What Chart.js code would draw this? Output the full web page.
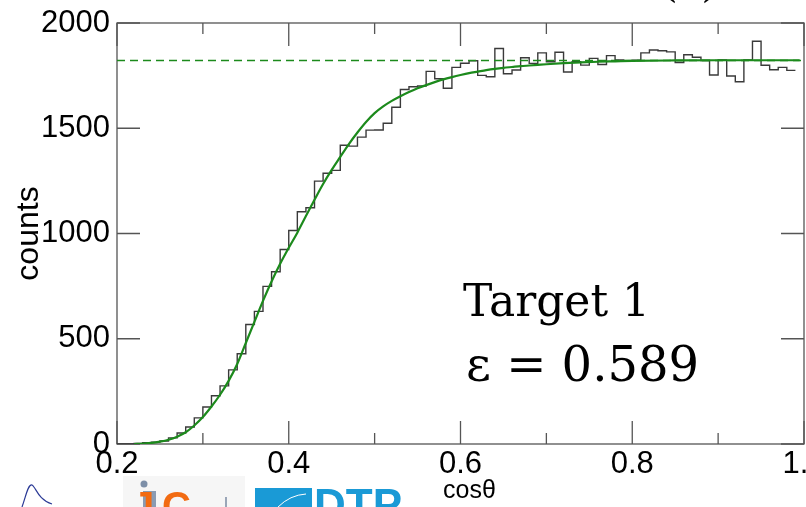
<!DOCTYPE html>
<html>
<head>
<meta charset="utf-8">
<script src="https://cdn.jsdelivr.net/npm/chart.js@4.4.1/dist/chart.umd.min.js"></script>
<style>
  html, body { margin: 0; padding: 0; background: #fff; }
  canvas { display: block; }
</style>
</head>
<body>
<canvas id="c" width="806" height="507"></canvas>
<script>
// histogram: 0.01 wide bins starting at cos(theta) = 0.20
var binStart = 0.20;
var binWidth = 0.01;
var counts = [
    0, 0, 3, 6, 9, 14, 29, 52, 81, 124,
    176, 229, 276, 352, 429, 568, 630, 749, 818, 924,
    1014, 1103, 1122, 1249, 1286, 1300, 1419, 1415, 1458, 1491,
    1492, 1524, 1600, 1684, 1697, 1701, 1770, 1735, 1690, 1789,
    1809, 1821, 1751, 1745, 1879, 1759, 1777, 1835, 1808, 1858,
    1816, 1861, 1767, 1816, 1800, 1832, 1803, 1845, 1825, 1821,
    1823, 1858, 1872, 1868, 1863, 1812, 1849, 1837, 1822, 1753,
    1824, 1748, 1721, 1824, 1913, 1799, 1778, 1789, 1775
];

// fitted turn-on curve
var fitX = [
    0.22, 0.23, 0.24, 0.25, 0.26, 0.27, 0.28, 0.29, 0.30, 0.31,
    0.32, 0.33, 0.34, 0.35, 0.36, 0.37, 0.38, 0.39, 0.40, 0.41,
    0.42, 0.43, 0.44, 0.45, 0.46, 0.47, 0.48, 0.49, 0.50, 0.51,
    0.52, 0.53, 0.54, 0.55, 0.56, 0.57, 0.58, 0.59, 0.60, 0.61,
    0.62, 0.63, 0.64, 0.65, 0.66, 0.67, 0.68, 0.69, 0.70, 0.72,
    0.74, 0.76, 0.78, 0.80, 0.85, 0.90, 0.95, 0.995
];
var fitY = [
    0, 2, 5, 11, 20, 35, 56, 88, 128, 178,
    234, 300, 380, 480, 580, 680, 772, 856, 932, 1004,
    1083, 1160, 1235, 1302, 1364, 1425, 1480, 1530, 1572, 1604,
    1630, 1652, 1672, 1690, 1705, 1719, 1732, 1743, 1753, 1762,
    1769, 1776, 1782, 1787, 1791, 1795, 1798, 1801, 1804, 1809,
    1813, 1816, 1818, 1820, 1822, 1823, 1823, 1823
];

var plateau = 1822;
var efficiency = 0.589;
var targetName = "Target 1";

var xMajorTicks = [0.2, 0.4, 0.6, 0.8, 1.0];
var xMinorTicks = [0.3, 0.5, 0.7, 0.9];
var yTicks = [0, 500, 1000, 1500, 2000];

var sans = "'Liberation Sans', Arial, Helvetica, sans-serif";
var serif = "'DejaVu Serif', serif";
var green = "#1c8a1c";

var histPoints = [];
counts.forEach(function (c, i) {
    var lo = binStart + i * binWidth;
    histPoints.push({ x: lo, y: c });
    histPoints.push({ x: lo + binWidth, y: c });
});

var fitPoints = fitX.map(function (x, i) { return { x: x, y: fitY[i] }; });

// ROOT-like frame with ticks pointing inwards on all four sides
var frameTicks = {
    id: "frameTicks",
    beforeDatasetsDraw: function (chart) {
        var ctx = chart.ctx, a = chart.chartArea;
        var x = chart.scales.x, y = chart.scales.y;
        ctx.save();
        ctx.strokeStyle = "#555";
        ctx.lineWidth = 1.3;
        ctx.strokeRect(a.left, a.top, a.right - a.left, a.bottom - a.top);
        ctx.beginPath();
        function xTick(v, len) {
            var px = x.getPixelForValue(v);
            ctx.moveTo(px, a.bottom); ctx.lineTo(px, a.bottom - len);
            ctx.moveTo(px, a.top); ctx.lineTo(px, a.top + len);
        }
        xMajorTicks.forEach(function (v) { xTick(v, 23); });
        xMinorTicks.forEach(function (v) { xTick(v, 11); });
        yTicks.forEach(function (v) {
            var py = y.getPixelForValue(v);
            ctx.moveTo(a.left, py); ctx.lineTo(a.left + 23, py);
            ctx.moveTo(a.right, py); ctx.lineTo(a.right - 23, py);
        });
        ctx.stroke();
        ctx.restore();
    }
};

// fit result text, cut-off pad label, x title and the institute logos along the bottom
var decorations = {
    id: "decorations",
    afterDraw: function (chart) {
        var ctx = chart.ctx;
        ctx.save();
        ctx.fillStyle = "#000";
        ctx.textAlign = "left";
        ctx.textBaseline = "alphabetic";
        ctx.font = "44px " + serif;
        ctx.fillText(targetName, 463, 316);
        ctx.font = "48px " + serif;
        ctx.fillText("\u03b5 = " + efficiency.toFixed(3), 466, 381);
        ctx.font = "40px " + serif;
        ctx.fillText("(a)", 662, -3);

        // x axis title sits a little right of the frame centre
        ctx.font = "25px " + sans;
        ctx.fillText("cos\u03b8", 443, 498);

        // small spectrum logo
        ctx.strokeStyle = "#2b3a96";
        ctx.lineWidth = 1.2;
        ctx.beginPath();
        ctx.moveTo(22, 507);
        ctx.bezierCurveTo(26, 496, 28, 484, 32, 485);
        ctx.bezierCurveTo(36, 487, 38, 500, 52, 504);
        ctx.stroke();

        // IJC lab logo
        ctx.fillStyle = "#f6f6f6";
        ctx.fillRect(123, 476, 122, 31);
        ctx.fillStyle = "#7d8fa8";
        ctx.beginPath();
        ctx.arc(144, 484, 3.5, 0, Math.PI * 2);
        ctx.fill();
        ctx.fillStyle = "#8a9bb3";
        ctx.fillRect(143, 491, 13, 16);
        ctx.fillStyle = "#f26b12";
        ctx.font = "bold 40px " + sans;
        ctx.fillText("J", 132, 520);
        ctx.fillText("C", 162, 520);
        ctx.fillStyle = "#9aa6b8";
        ctx.fillRect(225, 497, 2, 10);

        // DTP logo
        ctx.fillStyle = "#1a9ad6";
        ctx.fillRect(255, 488, 57, 19);
        ctx.strokeStyle = "#fff";
        ctx.lineWidth = 1;
        ctx.beginPath();
        ctx.moveTo(278, 507);
        ctx.quadraticCurveTo(290, 495, 306, 494);
        ctx.stroke();
        ctx.fillStyle = "#1a9ad6";
        ctx.font = "bold 44px " + sans;
        ctx.fillText("DTP", 314, 520);
        ctx.restore();
    }
};

new Chart(document.getElementById("c"), {
    type: "line",
    data: {
        datasets: [
            {
                data: fitPoints,
                borderColor: green,
                borderWidth: 2.2,
                pointRadius: 0,
                cubicInterpolationMode: "monotone",
                fill: false
            },
            {
                data: [{ x: 0.2, y: plateau }, { x: 1.0, y: plateau }],
                borderColor: green,
                borderWidth: 1.5,
                borderDash: [8, 5],
                pointRadius: 0,
                fill: false
            },
            {
                data: histPoints,
                borderColor: "#3a3a3a",
                borderWidth: 1.4,
                pointRadius: 0,
                tension: 0,
                fill: false
            }
        ]
    },
    options: {
        responsive: false,
        devicePixelRatio: 1,
        animation: false,
        layout: { padding: { top: 23, right: 2, left: 0, bottom: 0 } },
        plugins: { legend: { display: false }, tooltip: { enabled: false } },
        scales: {
            x: {
                type: "linear",
                min: 0.2,
                max: 1.0,
                afterBuildTicks: function (s) {
                    s.ticks = xMajorTicks.map(function (v) { return { value: v }; });
                },
                ticks: {
                    autoSkip: false,
                    maxRotation: 0,
                    padding: 2,
                    color: "#000",
                    font: { family: sans, size: 31 },
                    callback: function (v) { return Number(v).toFixed(1); }
                },
                grid: { display: false, drawTicks: false },
                border: { display: false },
                afterFit: function (s) {
                    s.height = 63;
                    s.paddingLeft = 0;
                    s.paddingRight = 0;
                }
            },
            y: {
                min: 0,
                max: 2000,
                afterBuildTicks: function (s) {
                    s.ticks = yTicks.map(function (v) { return { value: v }; });
                },
                ticks: {
                    autoSkip: false,
                    padding: 7,
                    color: "#000",
                    font: { family: sans, size: 31 },
                    callback: function (v) { return String(v); }
                },
                grid: { display: false, drawTicks: false },
                border: { display: false },
                title: {
                    display: true,
                    text: "counts",
                    color: "#000",
                    font: { family: sans, size: 32 },
                    padding: { top: 10, bottom: 0 }
                },
                afterFit: function (s) {
                    s.width = 117;
                    s.paddingTop = 0;
                    s.paddingBottom = 0;
                }
            }
        }
    },
    plugins: [frameTicks, decorations]
});
</script>
</body>
</html>
